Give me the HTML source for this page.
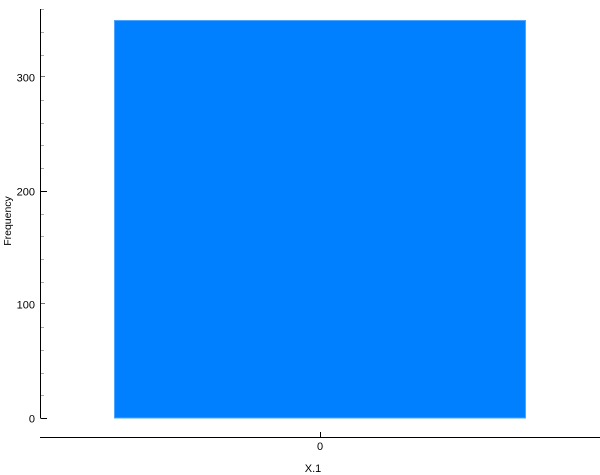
<!DOCTYPE html>
<html>
<head>
<meta charset="utf-8">
<style>
html,body{margin:0;padding:0;background:#fff;width:600px;height:475px;overflow:hidden}
svg{display:block}
text{font-family:"Liberation Sans",sans-serif;font-size:11px;fill:#000}
</style>
</head>
<body>
<svg id="chart" width="600" height="475" viewBox="0 0 600 475" xmlns="http://www.w3.org/2000/svg"></svg>
<script>
const categories = ['0'];
const frequencies = [350];
const yLabelTicks = [0, 100, 200, 300];
const yStrongTicks = [0, 200];
const yMediumTicks = [100, 300];
const yMinorTicks = [20, 40, 60, 80, 120, 140, 160, 180, 220, 240, 260, 280, 320, 340, 360];
const xAxisTitle = 'X.1';
const yAxisTitle = 'Frequency';

const svgNS = 'http://www.w3.org/2000/svg';
const svg = document.getElementById('chart');
const yBase = 418;
const yPerUnit = 1.1355;
function yScale(v) { return yBase - v * yPerUnit; }
const xBandLeft = 114.5;
const xBandWidth = 411;
function xBand(i) { return xBandLeft + i * xBandWidth / categories.length; }
function add(tag, attrs, text) {
  const el = document.createElementNS(svgNS, tag);
  for (const k in attrs) el.setAttribute(k, attrs[k]);
  if (text !== undefined) el.textContent = text;
  svg.appendChild(el);
  return el;
}

frequencies.forEach(function (v, i) {
  const bar = add('rect', {
    x: xBand(i), y: yScale(v),
    width: xBandWidth / categories.length, height: yBase - yScale(v),
    fill: '#007fff', stroke: '#4da5ff', 'stroke-width': 1, 'shape-rendering': 'crispEdges'
  });
  
  
});

const yAxis = add('line', { x1: 40.5, y1: 9, x2: 40.5, y2: yBase + 0.5, stroke: '#000', 'stroke-width': 1 });



yMinorTicks.forEach(function (v) {
  const y = Math.round(yScale(v)) + 0.5;
  const t = add('line', { x1: 41, y1: y, x2: 44, y2: y, stroke: '#aaa', 'stroke-width': 1 });
  
  
});

yMediumTicks.forEach(function (v) {
  const y = Math.round(yScale(v)) - 0.5;
  const t = add('line', { x1: 41, y1: y, x2: 45, y2: y, stroke: '#777', 'stroke-width': 1 });
  
  
});

yStrongTicks.forEach(function (v) {
  const y = Math.round(yScale(v)) + 0.5;
  const t = add('line', { x1: 41, y1: y, x2: 47, y2: y, stroke: '#000', 'stroke-width': 1 });
  
  
});

yLabelTicks.forEach(function (v) {
  const lab = add('text', { x: 35, y: Math.round(yScale(v)) + 4.5, 'text-anchor': 'end' }, String(v));
  
  
});

const xAxis = add('line', { x1: 40, y1: 437.5, x2: 600, y2: 437.5, stroke: '#000', 'stroke-width': 1 });



categories.forEach(function (c, i) {
  const cx = Math.round(xBand(i) + xBandWidth / categories.length / 2) + 0.5;
  const t = add('line', { x1: cx, y1: 432, x2: cx, y2: 437, stroke: '#000', 'stroke-width': 1 });
  
  
  const lab = add('text', { x: cx - 0.5, y: 450, 'text-anchor': 'middle' }, c);
  
  
});

const xTitle = add('text', { x: 313, y: 472, 'text-anchor': 'middle' }, xAxisTitle);



const yTitle = add('text', { x: 11, y: 221, 'text-anchor': 'middle', 'font-size': '10.5', style: 'font-size:10.5px', transform: 'rotate(-90 11 221)' }, yAxisTitle);


</script>
</body>
</html>
